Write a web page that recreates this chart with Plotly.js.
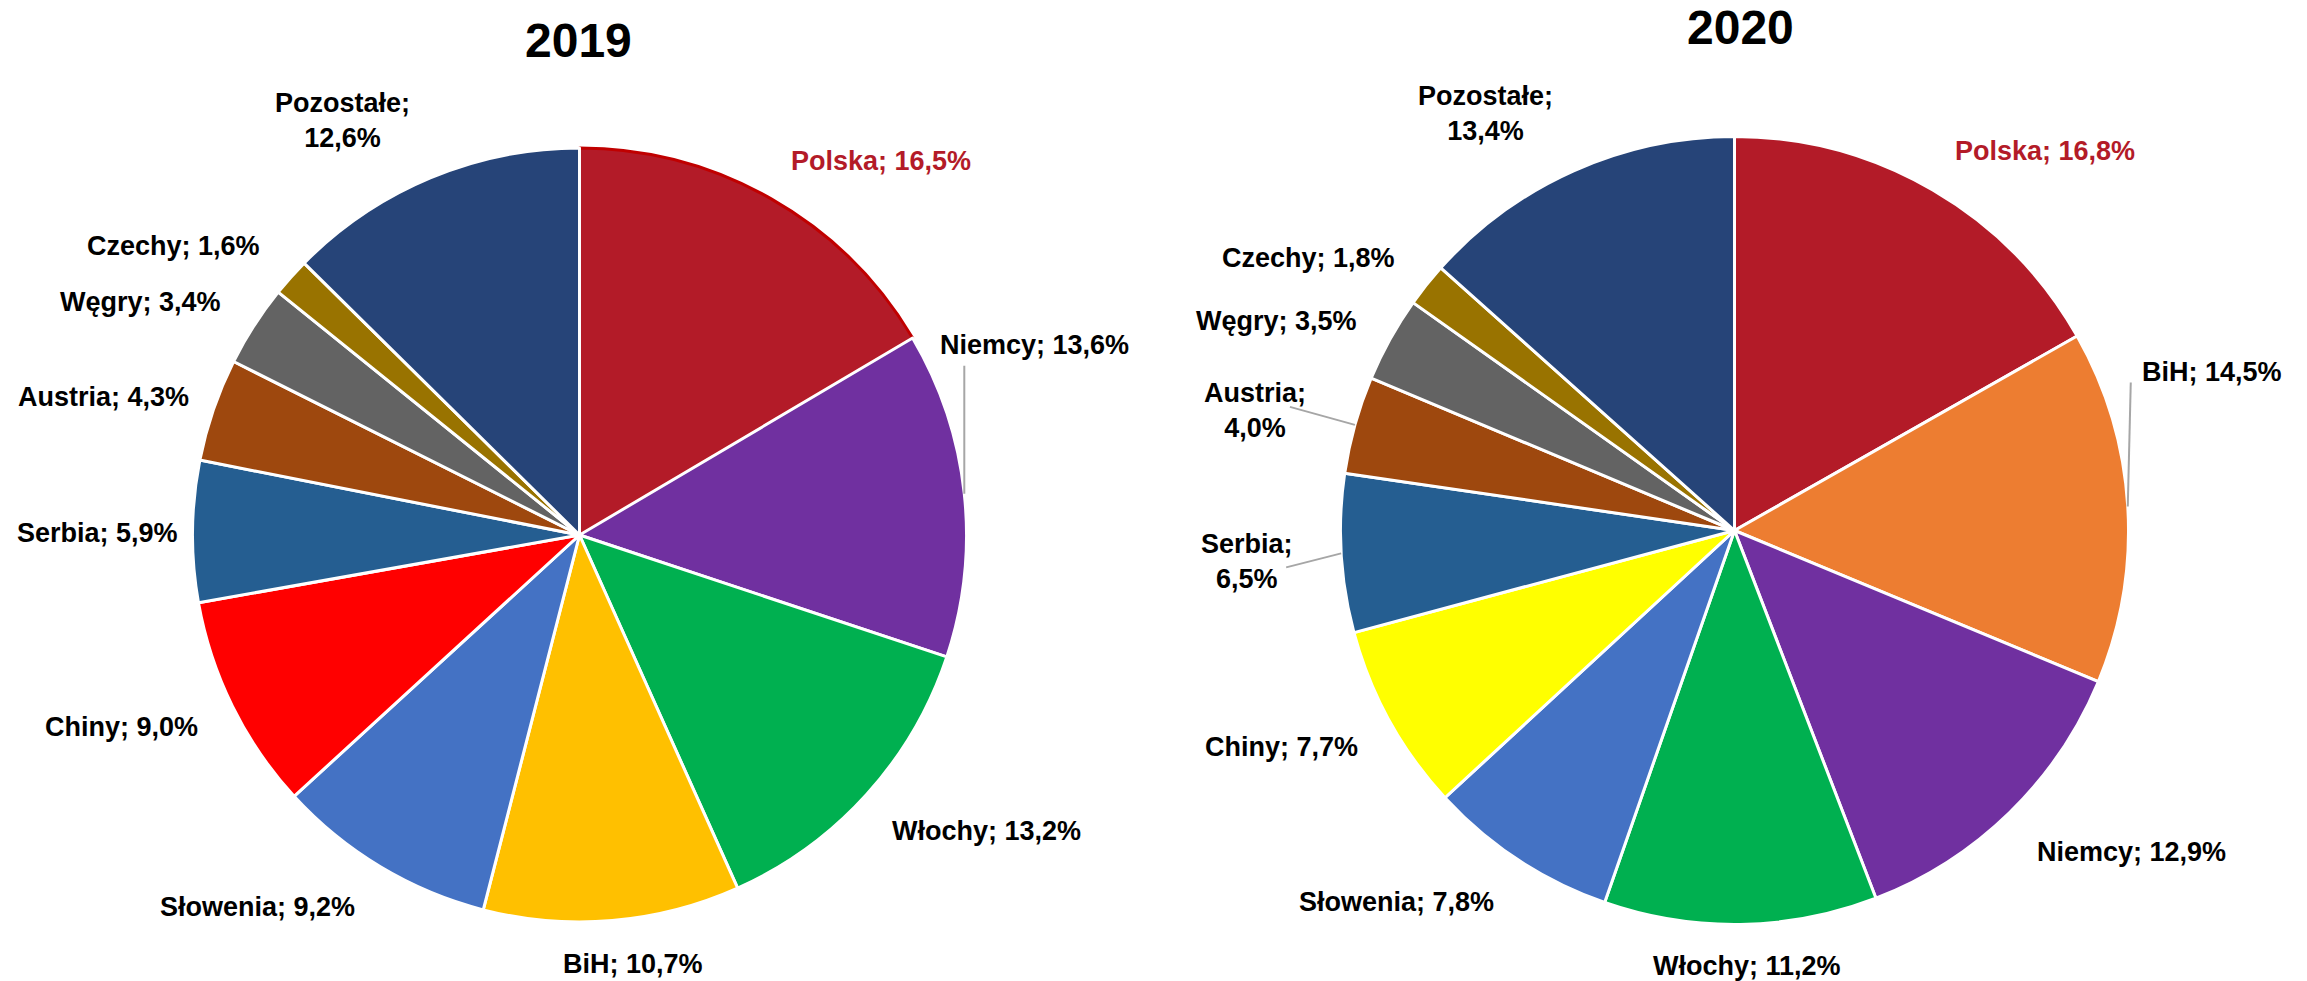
<!DOCTYPE html>
<html>
<head>
<meta charset="utf-8">
<script src="https://cdn.plot.ly/plotly-3.0.1.min.js"></script>
<style>html,body{margin:0;padding:0;background:#fff;}#chart{width:2307px;height:981px;}</style>
</head>
<body>
<div id="chart"></div>
<script>
// ---- data ----
const labels2019 = ["Polska", "Niemcy", "Włochy", "BiH", "Słowenia", "Chiny", "Serbia", "Austria", "Węgry", "Czechy", "Pozostałe"];
const values2019 = [16.5, 13.6, 13.2, 10.7, 9.2, 9.0, 5.9, 4.3, 3.4, 1.6, 12.6];
const labels2020 = ["Polska", "BiH", "Niemcy", "Włochy", "Słowenia", "Chiny", "Serbia", "Austria", "Węgry", "Czechy", "Pozostałe"];
const values2020 = [16.8, 14.5, 12.9, 11.2, 7.8, 7.7, 6.5, 4.0, 3.5, 1.8, 13.4];
const titles = ["2019", "2020"];

// ---- layout / styles ----
const W = 2307, H = 981;
const geom = [{cx: 579.5, cy: 535, r: 387}, {cx: 1734.5, cy: 530.5, r: 394}];
// title anchor: [x, y, yanchor]
const titlePos = [{x: 578, y: 41, ya: "middle"}, {x: 1740, y: 0, ya: "top"}];

const colorMap2019 = {"Polska":"#B31B28","Niemcy":"#7030A0","Włochy":"#00B050","BiH":"#FFC000","Słowenia":"#4472C4","Chiny":"#FF0000","Serbia":"#255E91","Austria":"#9E480E","Węgry":"#636363","Czechy":"#997300","Pozostałe":"#264478"};
const colorMap2020 = Object.assign({}, colorMap2019, {"BiH":"#ED7D31","Chiny":"#FFFF00"});

// label placement relative to the slice's outer mid-point: [anchor, dx, dy]
const place2019 = {
  "Polska":["left",19,-38], "Niemcy":["left",-25,-149], "Włochy":["left",24,36], "BiH":["center",21,43],
  "Słowenia":["right",-24,40], "Chiny":["right",-33,21], "Serbia":["right",-14,2], "Austria":["right",-23,-13],
  "Węgry":["right",-32,-24], "Czechy":["right",-30,-31], "Pozostałe":["center",-88,-57]
};
const place2020 = {
  "Polska":["left",21,-39], "BiH":["left",13,-134], "Niemcy":["left",27,39], "Włochy":["center",6,42],
  "Słowenia":["right",-23,42], "Chiny":["right",-30,26], "Serbia":["right",-47,8], "Austria":["right",-48,-14],
  "Węgry":["right",-32,-18], "Czechy":["right",-30,-27], "Pozostałe":["center",-88,-57]
};
// leader lines: start point relative to the slice's outer mid-point
const leaders2019 = {"Niemcy":[0,-128]};
const leaders2020 = {"BiH":[3,-124], "Serbia":[-55,14], "Austria":[-65,-18]};
const wrap2019 = ["Pozostałe"];
const wrap2020 = ["Pozostałe", "Austria", "Serbia"];

const FONT = "Liberation Sans, Arial, sans-serif";
const LABEL_SIZE = 27;

function fmt(v){ return v.toFixed(1).replace('.', ','); }
function px2x(px){ return px / W; }
function py2y(py){ return 1 - py / H; }

function makeTrace(labels, values, cmap, g, highlightLine){
  return {
    type: "pie",
    labels: labels,
    values: values,
    sort: false,
    direction: "clockwise",
    rotation: 0,
    domain: {x: [px2x(g.cx - g.r), px2x(g.cx + g.r)], y: [py2y(g.cy + g.r), py2y(g.cy - g.r)]},
    textinfo: "none",
    hoverinfo: "none",
    showlegend: false,
    marker: {
      colors: labels.map(l => cmap[l]),
      line: {color: labels.map(l => (l === "Polska" && highlightLine) ? "#C00000" : "#FFFFFF"), width: 3}
    }
  };
}

const annotations = [];
const shapes = [];
function addLabels(labels, values, g, place, leaders, wrap){
  const total = values.reduce((a, b) => a + b, 0);
  let cum = 0;
  labels.forEach((l, i) => {
    const mid = (cum + values[i] / 2) / total * 2 * Math.PI;
    cum += values[i];
    const ex = g.cx + g.r * Math.sin(mid);
    const ey = g.cy - g.r * Math.cos(mid);
    const p = place[l];
    const txt = l + ";" + (wrap.indexOf(l) >= 0 ? "<br>" : " ") + fmt(values[i]) + "%";
    annotations.push({
      text: txt, x: px2x(ex + p[1]), y: py2y(ey + p[2]), xref: "paper", yref: "paper",
      xanchor: p[0], yanchor: "middle", align: "center", showarrow: false, borderpad: 0,
      font: {family: FONT, size: LABEL_SIZE, weight: "bold", color: l === "Polska" ? "#B31B28" : "#000000"}
    });
    if (leaders[l]) {
      const s = leaders[l];
      shapes.push({type: "line", xref: "paper", yref: "paper",
        x0: px2x(ex + s[0]), y0: py2y(ey + s[1]), x1: px2x(ex), y1: py2y(ey),
        line: {color: "#A6A6A6", width: 2}});
    }
  });
}
addLabels(labels2019, values2019, geom[0], place2019, leaders2019, wrap2019);
addLabels(labels2020, values2020, geom[1], place2020, leaders2020, wrap2020);

titles.forEach((t, i) => {
  annotations.push({text: t, x: px2x(titlePos[i].x), y: py2y(titlePos[i].y), xref: "paper", yref: "paper",
    xanchor: "center", yanchor: titlePos[i].ya, showarrow: false, borderpad: 0,
    font: {family: FONT, size: 48, weight: "bold", color: "#000"}});
});

const data = [
  makeTrace(labels2019, values2019, colorMap2019, geom[0], true),
  makeTrace(labels2020, values2020, colorMap2020, geom[1], false)
];

const layout = {
  width: W, height: H,
  margin: {l: 0, r: 0, t: 0, b: 0},
  paper_bgcolor: "#FFFFFF",
  separators: ", ",
  annotations: annotations,
  shapes: shapes
};

Plotly.newPlot("chart", data, layout, {staticPlot: true, displayModeBar: false});
</script>
</body>
</html>
